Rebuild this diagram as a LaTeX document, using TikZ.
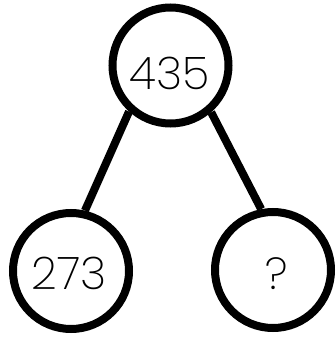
\documentclass[tikz,border=0pt]{standalone}
\usepackage{fontspec}
\setmainfont{Poppins}[UprightFont={* ExtraLight}]
\begin{document}
\begin{tikzpicture}[x=1pt,y=1pt,
  circ/.style={circle,draw=black,line width=8pt,minimum size=116pt,inner sep=0pt},
  conn/.style={draw=black,line width=8pt},
  num/.style={font=\fontsize{45}{45}\selectfont,inner sep=0pt}]
\useasboundingbox (0,0) rectangle (336,338);
\node[circ] (top) at (170.5,272.5) {};
\node[circ] (left) at (71,67) {};
\node[circ] (right) at (273,68) {};
\node[num] (ttop) at (169.5,264.5) {435};
\node[num] (tleft) at (69,64.5) {273};
\node[num] (tright) at (277,64.5) {?};
\draw[conn] (top.228) -- (left.77.5);
\draw[conn] (top.311.8) -- (right.101.8);
\end{tikzpicture}
\end{document}
